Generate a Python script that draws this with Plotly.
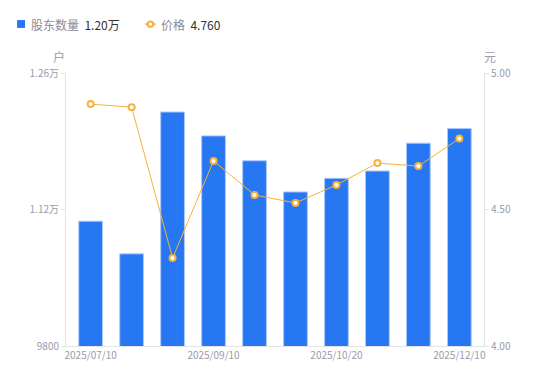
import plotly.graph_objects as go

dates = ["2025/07/10", "2025/07/31", "2025/08/20", "2025/09/10", "2025/09/30",
         "2025/10/10", "2025/10/20", "2025/10/31", "2025/11/20", "2025/12/10"]
holders = [11080, 10745, 12200, 11955, 11700, 11380, 11520, 11595, 11880, 12030]
prices = [4.886, 4.875, 4.322, 4.678, 4.553, 4.524, 4.590, 4.670, 4.659, 4.760]
tick_dates = ["2025/07/10", "2025/09/10", "2025/10/20", "2025/12/10"]
left_ticks = [9800, 11200, 12600]
left_labels = ["9800", "1.12万", "1.26万"]
right_ticks = [4.0, 4.5, 5.0]
right_labels = ["4.00", "4.50", "5.00"]

FONT = "Noto Sans CJK SC, Noto Sans, sans-serif"
GREY = "#9a9aaa"
AXIS = "#e3e3e8"
BLUE = "#2777f3"
ORANGE = "#f7b23b"

fig = go.Figure()
fig.add_trace(go.Bar(
    x=dates, y=holders, name="股东数量",
    marker=dict(color=BLUE, line=dict(color="#a9c8fb", width=1)),
    width=0.58, yaxis="y",
))
fig.add_trace(go.Scatter(
    x=dates, y=prices, name="价格", yaxis="y2", mode="lines+markers",
    line=dict(color=ORANGE, width=1),
    marker=dict(color="white", size=6, line=dict(color=ORANGE, width=2)),
))

# legend drawn as annotations/shapes
fig.add_shape(type="rect", xref="paper", yref="paper",
              x0=-0.117, x1=-0.098, y0=1.165, y1=1.194,
              fillcolor=BLUE, line=dict(width=0))
fig.add_annotation(xref="paper", yref="paper", x=-0.088, y=1.179, xanchor="left",
                   yanchor="middle", showarrow=False,
                   text=f"<span style='color:#8a8a9a'>股东数量</span>  <span style='color:#333'>{holders[-1]/10000:.2f}万</span>",
                   font=dict(family=FONT, size=12))
fig.add_shape(type="line", xref="paper", yref="paper",
              x0=0.190, x1=0.214, y0=1.179, y1=1.179,
              line=dict(color=ORANGE, width=2))
fig.add_shape(type="circle", xref="paper", yref="paper",
              x0=0.1955, x1=0.2085, y0=1.169, y1=1.189,
              fillcolor="white", line=dict(color=ORANGE, width=2))
fig.add_annotation(xref="paper", yref="paper", x=0.223, y=1.179, xanchor="left",
                   yanchor="middle", showarrow=False,
                   text=f"<span style='color:#8a8a9a'>价格</span>  <span style='color:#333'>{prices[-1]:.3f}</span>",
                   font=dict(family=FONT, size=12))
fig.add_annotation(xref="paper", yref="paper", x=-0.017, y=1.059, xanchor="center",
                   yanchor="middle", showarrow=False, text="户",
                   font=dict(family=FONT, size=12, color=GREY))
fig.add_annotation(xref="paper", yref="paper", x=1.014, y=1.059, xanchor="center",
                   yanchor="middle", showarrow=False, text="元",
                   font=dict(family=FONT, size=12, color=GREY))

fig.update_layout(
    width=550, height=381,
    margin=dict(l=58, r=74, t=65, b=43),
    paper_bgcolor="white", plot_bgcolor="white",
    showlegend=False, bargap=0.42,
    font=dict(family=FONT, size=10, color=GREY),
    xaxis=dict(type="category", tickmode="array", tickvals=tick_dates, ticktext=tick_dates,
               showline=True, linecolor=AXIS, linewidth=1, ticks="", showgrid=False,
               tickfont=dict(size=10, color=GREY)),
    yaxis=dict(range=[9800, 12600], tickmode="array", tickvals=left_ticks, ticktext=left_labels,
               showline=True, linecolor=AXIS, ticks="outside", ticklen=4, tickcolor=AXIS,
               showgrid=False, zeroline=False, tickfont=dict(size=10, color=GREY)),
    yaxis2=dict(range=[4.0, 5.0], overlaying="y", side="right", tickmode="array",
                tickvals=right_ticks, ticktext=right_labels, showline=True, linecolor=AXIS,
                ticks="outside", ticklen=4, tickcolor=AXIS, showgrid=False, zeroline=False,
                tickfont=dict(size=10, color=GREY)),
)

fig.write_html("out.html")
